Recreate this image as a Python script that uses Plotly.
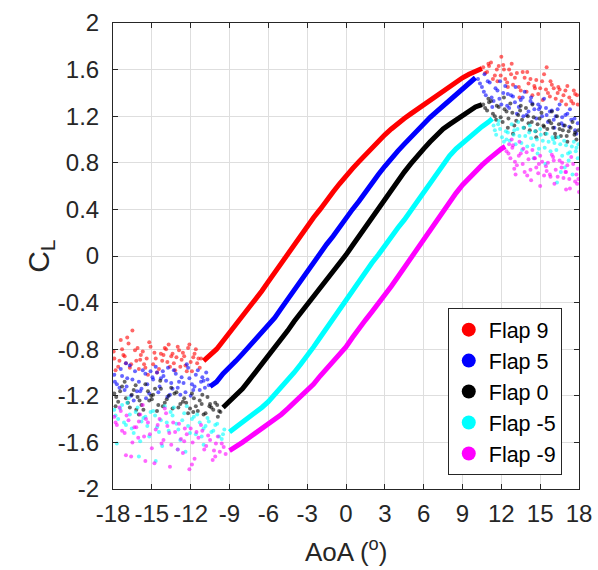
import plotly.graph_objects as go

# ---------------- data ----------------
flap_names = ["Flap 9", "Flap 5", "Flap 0", "Flap -5", "Flap -9"]
flap_colors = ["#ff0000", "#0000ff", "#000000", "#00ffff", "#ff00ff"]

# attached (linear) part of each curve
f9_x = [-11, -10.5, -10, -9.5, -9, -8.5, -8, -7.5, -7, -6.5, -6, -5.5, -5, -4.5, -4, -3.5, -3, -2.5, -2, -1.5,
        -1, -0.5, 0, 0.5, 1, 1.5, 2, 2.5, 3, 3.5, 4, 4.5, 5, 5.5, 6, 6.5, 7, 7.5, 8, 8.5, 9, 9.5, 10, 10.5]
f9_y = [-0.90, -0.85, -0.80, -0.73, -0.66, -0.59, -0.52, -0.45, -0.37, -0.30, -0.22, -0.14, -0.06, 0.02, 0.10,
        0.17, 0.26, 0.33, 0.40, 0.48, 0.55, 0.62, 0.69, 0.75, 0.81, 0.87, 0.93, 0.99, 1.04, 1.09, 1.14, 1.18,
        1.22, 1.26, 1.30, 1.34, 1.38, 1.42, 1.46, 1.49, 1.53, 1.56, 1.59, 1.61]

f5_x = [-10.5, -10, -9.5, -9, -8.5, -8, -7.5, -7, -6.5, -6, -5.5, -5, -4.5, -4, -3.5, -3, -2.5, -2, -1.5, -1,
        -0.5, 0, 0.5, 1, 1.5, 2, 2.5, 3, 3.5, 4, 4.5, 5, 5.5, 6, 6.5, 7, 7.5, 8, 8.5, 9, 9.5, 10]
f5_y = [-1.12, -1.08, -1.01, -0.96, -0.90, -0.84, -0.78, -0.72, -0.66, -0.60, -0.53, -0.45, -0.37, -0.29, -0.21,
        -0.13, -0.06, 0.02, 0.10, 0.17, 0.25, 0.32, 0.40, 0.47, 0.55, 0.63, 0.70, 0.77, 0.84, 0.90, 0.96, 1.02,
        1.08, 1.14, 1.19, 1.24, 1.29, 1.34, 1.38, 1.43, 1.48, 1.53]

f0_x = [-9.5, -9, -8.5, -8, -7.5, -7, -6.5, -6, -5.5, -5, -4.5, -4, -3.5, -3, -2.5, -2, -1.5, -1, -0.5, 0,
        0.5, 1, 1.5, 2, 2.5, 3, 3.5, 4, 4.5, 5, 5.5, 6, 6.5, 7, 7.5, 8, 8.5, 9, 9.5, 10, 10.5]
f0_y = [-1.30, -1.25, -1.20, -1.14, -1.07, -1.00, -0.93, -0.86, -0.79, -0.72, -0.64, -0.56, -0.49, -0.42, -0.35,
        -0.28, -0.20, -0.13, -0.06, 0.01, 0.09, 0.17, 0.25, 0.33, 0.41, 0.49, 0.57, 0.65, 0.72, 0.79, 0.86,
        0.92, 0.98, 1.04, 1.09, 1.13, 1.17, 1.21, 1.25, 1.28, 1.30]

fm5_x = [-9, -8.5, -8, -7.5, -7, -6.5, -6, -5.5, -5, -4.5, -4, -3.5, -3, -2.5, -2, -1.5, -1, -0.5, 0, 0.5,
         1, 1.5, 2, 2.5, 3, 3.5, 4, 4.5, 5, 5.5, 6, 6.5, 7, 7.5, 8, 8.5, 9, 9.5, 10, 10.5, 11, 11.3]
fm5_y = [-1.51, -1.47, -1.43, -1.39, -1.34, -1.30, -1.25, -1.19, -1.13, -1.07, -1.00, -0.93, -0.86, -0.78, -0.70,
         -0.62, -0.54, -0.45, -0.37, -0.30, -0.22, -0.14, -0.06, 0.01, 0.09, 0.16, 0.24, 0.31, 0.39, 0.47, 0.55,
         0.63, 0.71, 0.79, 0.86, 0.92, 0.97, 1.02, 1.07, 1.11, 1.15, 1.18]

fm9_x = [-9, -8.5, -8, -7.5, -7, -6.5, -6, -5.5, -5, -4.5, -4, -3.5, -3, -2.5, -2, -1.5, -1, -0.5, 0, 0.5,
         1, 1.5, 2, 2.5, 3, 3.5, 4, 4.5, 5, 5.5, 6, 6.5, 7, 7.5, 8, 8.5, 9, 9.5, 10, 10.5, 11, 11.5, 12, 12.3]
fm9_y = [-1.67, -1.64, -1.60, -1.56, -1.52, -1.49, -1.45, -1.41, -1.36, -1.31, -1.26, -1.21, -1.16, -1.10, -1.03,
         -0.97, -0.91, -0.85, -0.78, -0.70, -0.62, -0.55, -0.48, -0.41, -0.34, -0.26, -0.18, -0.10, -0.02, 0.06,
         0.14, 0.23, 0.31, 0.39, 0.47, 0.54, 0.61, 0.67, 0.73, 0.78, 0.83, 0.88, 0.92, 0.94]

# scattered (stalled) points, negative AoA side
f9_neg_x = [-17.9, -17.6, -17.3, -17.0, -16.8, -16.5, -16.2, -16.0, -15.7, -15.4, -15.1, -14.9, -14.6, -14.3,
            -14.0, -13.8, -13.5, -13.2, -12.9, -12.7, -12.4, -12.1, -11.8, -11.5, -11.3, -17.8, -17.2, -16.6,
            -16.1, -15.5, -14.8, -14.2, -13.6, -13.0, -12.5, -11.9, -11.4, -17.4, -15.9, -13.4,
            -17.95, -17.5, -17.1, -16.7, -16.3, -15.85, -15.6, -15.2, -14.7, -14.45, -14.1, -13.9, -13.3,
            -13.1, -12.8, -12.6, -12.2, -12.0, -11.7, -11.6, -11.2, -16.9, -15.3, -13.7, -12.3]
f9_neg_y = [-0.88, -0.95, -0.80, -0.92, -0.75, -0.64, -0.90, -0.97, -0.82, -0.88, -0.78, -0.93, -1.00, -0.84,
            -0.79, -0.91, -0.86, -0.98, -0.81, -0.89, -0.94, -0.76, -0.87, -0.92, -0.96, -0.98, -0.85, -0.93,
            -0.79, -0.96, -0.83, -0.90, -0.95, -0.78, -0.86, -0.99, -0.88, -0.72, -0.89, -0.84,
            -0.82, -0.90, -0.86, -0.96, -0.81, -0.85, -0.93, -0.74, -0.88, -0.97, -0.85, -0.80, -0.92,
            -0.87, -0.95, -0.83, -0.79, -0.91, -0.84, -0.80, -0.88, -0.70, -1.02, -0.76, -0.99]

f5_neg_x = [-17.9, -17.7, -17.4, -17.1, -16.9, -16.6, -16.3, -16.0, -15.8, -15.5, -15.2, -14.9, -14.7, -14.4,
            -14.1, -13.8, -13.5, -13.3, -13.0, -12.7, -12.4, -12.2, -11.9, -11.6, -11.3, -11.0, -10.8, -17.5,
            -16.7, -15.9, -15.1, -14.3, -13.6, -12.9, -12.3, -11.7, -11.1, -10.6, -16.4, -14.6,
            -17.85, -17.3, -16.95, -16.5, -16.15, -15.7, -15.35, -14.95, -14.5, -14.15, -13.9, -13.4, -13.15,
            -12.8, -12.55, -12.1, -11.8, -11.45, -11.2, -10.9, -10.7, -17.0, -15.45, -13.75, -12.0]
f5_neg_y = [-1.02, -1.10, -0.97, -1.15, -1.05, -1.20, -0.99, -1.08, -1.14, -1.01, -1.18, -1.06, -0.95, -1.12,
            -1.03, -1.21, -1.09, -0.98, -1.13, -1.04, -1.17, -0.96, -1.10, -1.02, -1.15, -1.07, -1.00, -1.13,
            -0.94, -1.16, -0.99, -1.05, -1.19, -1.08, -0.93, -1.12, -1.04, -1.11, -1.24, -1.00,
            -1.08, -1.03, -1.12, -1.06, -1.16, -0.98, -1.10, -1.04, -1.17, -0.99, -1.07, -1.14, -1.01,
            -1.19, -1.09, -1.05, -1.15, -0.98, -1.08, -1.13, -1.06, -0.92, -1.22, -0.96, -1.20]

f0_neg_x = [-17.9, -17.6, -17.3, -17.0, -16.7, -16.4, -16.1, -15.8, -15.5, -15.2, -14.9, -14.6, -14.3, -14.0,
            -13.7, -13.4, -13.1, -12.8, -12.5, -12.2, -11.9, -11.6, -11.3, -11.0, -10.7, -10.4, -10.1, -9.8,
            -17.8, -17.1, -16.2, -15.3, -14.5, -13.5, -12.6, -11.8, -11.1, -10.5, -9.9, -15.0,
            -17.75, -17.45, -16.85, -16.55, -16.25, -15.95, -15.65, -15.05, -14.75, -14.15, -13.85, -13.25,
            -12.95, -12.35, -12.05, -11.75, -11.45, -11.15, -10.85, -10.55, -10.25, -9.95, -9.7, -14.35, -16.0]
f0_neg_y = [-1.18, -1.25, -1.12, -1.22, -1.30, -1.15, -1.21, -1.28, -1.10, -1.24, -1.19, -1.33, -1.14, -1.26,
            -1.20, -1.31, -1.17, -1.27, -1.22, -1.35, -1.18, -1.29, -1.24, -1.36, -1.21, -1.30, -1.26, -1.33,
            -1.29, -1.08, -1.32, -1.16, -1.28, -1.13, -1.25, -1.34, -1.19, -1.27, -1.38, -1.23,
            -1.21, -1.16, -1.26, -1.19, -1.11, -1.24, -1.32, -1.20, -1.14, -1.29, -1.23, -1.18,
            -1.30, -1.26, -1.31, -1.22, -1.33, -1.27, -1.35, -1.29, -1.32, -1.28, -1.34, -1.07, -1.36]

fm5_neg_x = [-17.9, -17.6, -17.3, -17.0, -16.7, -16.4, -16.1, -15.8, -15.5, -15.2, -14.9, -14.6, -14.3, -14.0,
             -13.7, -13.4, -13.1, -12.8, -12.5, -12.2, -11.9, -11.6, -11.3, -11.0, -10.7, -10.4, -10.1, -9.8,
             -9.4, -17.7, -16.9, -16.0, -15.1, -14.2, -13.3, -12.4, -11.5, -10.6, -9.6, -14.7,
             -17.8, -17.45, -17.15, -16.55, -16.25, -15.65, -15.35, -14.75, -14.45, -13.85, -13.55, -12.95,
             -12.65, -12.05, -11.75, -11.15, -10.85, -10.25, -9.95, -9.5, -15.9, -13.0, -11.0, -16.8, -12.3]
fm5_neg_y = [-1.32, -1.40, -1.28, -1.45, -1.36, -1.52, -1.30, -1.42, -1.38, -1.55, -1.33, -1.47, -1.41, -1.29,
             -1.50, -1.37, -1.44, -1.58, -1.35, -1.46, -1.40, -1.53, -1.43, -1.48, -1.39, -1.51, -1.45, -1.55,
             -1.49, -1.61, -1.26, -1.72, -1.34, -1.63, -1.30, -1.68, -1.36, -1.42, -1.57, -1.76,
             -1.37, -1.31, -1.43, -1.48, -1.34, -1.39, -1.46, -1.37, -1.51, -1.43, -1.34, -1.49,
             -1.41, -1.52, -1.38, -1.55, -1.46, -1.50, -1.44, -1.53, -1.59, -1.66, -1.62, -1.22, -1.29]

fm9_neg_x = [-17.9, -17.7, -17.4, -17.1, -16.8, -16.5, -16.2, -15.9, -15.6, -15.3, -15.0, -14.7, -14.4, -14.1,
             -13.8, -13.5, -13.2, -12.9, -12.6, -12.3, -12.0, -11.7, -11.4, -11.1, -10.8, -10.5, -10.2, -9.9,
             -9.6, -9.3, -17.5, -16.6, -15.7, -14.8, -13.9, -13.0, -12.1, -11.2, -10.3, -16.0, -14.0, -12.5,
             -17.8, -17.3, -16.95, -16.35, -16.05, -15.45, -15.15, -14.55, -14.25, -13.65, -13.35, -12.75,
             -12.45, -11.85, -11.55, -10.95, -10.65, -10.05, -9.75, -9.45, -17.0, -15.5, -13.6, -11.9, -10.1]
fm9_neg_y = [-1.38, -1.45, -1.33, -1.52, -1.41, -1.60, -1.47, -1.36, -1.55, -1.43, -1.65, -1.49, -1.40, -1.58,
             -1.46, -1.62, -1.51, -1.44, -1.69, -1.53, -1.48, -1.74, -1.56, -1.50, -1.63, -1.58, -1.67, -1.55,
             -1.61, -1.70, -1.30, -1.72, -1.28, -1.78, -1.35, -1.66, -1.83, -1.45, -1.75, -1.42, -1.31, -1.59,
             -1.43, -1.50, -1.37, -1.47, -1.56, -1.40, -1.53, -1.45, -1.61, -1.52, -1.43, -1.57,
             -1.48, -1.60, -1.51, -1.66, -1.54, -1.61, -1.68, -1.64, -1.71, -1.76, -1.81, -1.79, -1.72]

# scattered (stalled) points, positive AoA side
f9_pos_x = [10.6, 10.9, 11.2, 11.5, 11.8, 12.0, 12.3, 12.6, 12.9, 13.2, 13.5, 13.8, 14.1, 14.4, 14.7, 15.0,
            15.3, 15.6, 15.9, 16.2, 16.5, 16.8, 17.1, 17.4, 17.7, 17.9, 11.0, 11.7, 12.2, 12.8, 13.4, 14.0,
            14.6, 15.2, 15.8, 16.4, 17.0, 17.6, 12.5, 15.5,
            10.75, 11.05, 11.35, 11.65, 11.95, 12.15, 12.45, 12.75, 13.05, 13.35, 13.65, 13.95, 14.25,
            14.55, 14.85, 15.15, 15.45, 15.75, 16.05, 16.35, 16.65, 16.95, 17.25, 17.55, 17.85]
f9_pos_y = [1.62, 1.58, 1.66, 1.55, 1.63, 1.71, 1.52, 1.60, 1.47, 1.57, 1.42, 1.53, 1.48, 1.38, 1.51, 1.44,
            1.56, 1.40, 1.47, 1.35, 1.43, 1.38, 1.46, 1.33, 1.39, 1.30, 1.65, 1.50, 1.60, 1.65, 1.36, 1.58,
            1.44, 1.34, 1.50, 1.45, 1.30, 1.42, 1.45, 1.62,
            1.57, 1.63, 1.52, 1.60, 1.55, 1.64, 1.49, 1.56, 1.53, 1.45, 1.58, 1.41, 1.52,
            1.46, 1.39, 1.50, 1.43, 1.37, 1.44, 1.40, 1.33, 1.42, 1.36, 1.31, 1.38]

f5_pos_x = [10.2, 10.5, 10.8, 11.1, 11.4, 11.7, 12.0, 12.3, 12.6, 12.9, 13.2, 13.5, 13.8, 14.1, 14.4, 14.7,
            15.0, 15.3, 15.6, 15.9, 16.2, 16.5, 16.8, 17.1, 17.4, 17.7, 17.9, 10.7, 11.3, 11.9, 12.5, 13.1,
            13.7, 14.3, 14.9, 15.5, 16.1, 16.7, 17.3, 17.8,
            10.35, 10.65, 10.95, 11.25, 11.55, 11.85, 12.15, 12.45, 12.75, 13.05, 13.35, 13.65, 13.95,
            14.25, 14.55, 14.85, 15.15, 15.45, 15.75, 16.05, 16.35, 16.65, 16.95, 17.25, 17.65]
f5_pos_y = [1.52, 1.45, 1.38, 1.49, 1.33, 1.42, 1.30, 1.46, 1.27, 1.37, 1.22, 1.34, 1.41, 1.24, 1.31, 1.18,
            1.28, 1.35, 1.15, 1.25, 1.20, 1.30, 1.12, 1.22, 1.17, 1.08, 1.14, 1.56, 1.28, 1.50, 1.39, 1.45,
            1.20, 1.36, 1.26, 1.21, 1.10, 1.19, 1.26, 1.05,
            1.48, 1.41, 1.50, 1.36, 1.44, 1.35, 1.40, 1.29, 1.38, 1.32, 1.28, 1.36, 1.21,
            1.33, 1.26, 1.30, 1.20, 1.27, 1.24, 1.17, 1.26, 1.14, 1.21, 1.11, 1.18]

f0_pos_x = [10.6, 10.9, 11.2, 11.5, 11.8, 12.1, 12.4, 12.7, 13.0, 13.3, 13.6, 13.9, 14.2, 14.5, 14.8, 15.1,
            15.4, 15.7, 16.0, 16.3, 16.6, 16.9, 17.2, 17.5, 17.8, 11.0, 11.6, 12.2, 12.9, 13.5, 14.1, 14.7,
            15.3, 15.9, 16.5, 17.1, 17.7, 12.5, 14.4, 16.2,
            10.75, 11.05, 11.35, 11.65, 11.95, 12.25, 12.55, 12.85, 13.15, 13.45, 13.75, 14.05, 14.35,
            14.65, 14.95, 15.25, 15.55, 15.85, 16.15, 16.45, 16.75, 17.05, 17.35, 17.65, 17.95]
f0_pos_y = [1.30, 1.25, 1.33, 1.20, 1.28, 1.15, 1.24, 1.31, 1.12, 1.21, 1.17, 1.27, 1.08, 1.19, 1.13, 1.23,
            1.05, 1.16, 1.10, 1.20, 1.03, 1.12, 1.07, 1.15, 1.00, 1.35, 1.17, 1.36, 1.05, 1.29, 1.14, 1.02,
            1.11, 1.24, 1.09, 0.98, 1.06, 1.10, 1.30, 1.02,
            1.27, 1.32, 1.22, 1.29, 1.19, 1.26, 1.18, 1.23, 1.16, 1.25, 1.10, 1.20, 1.15,
            1.07, 1.18, 1.12, 1.09, 1.14, 1.05, 1.13, 1.08, 1.03, 1.10, 1.04, 1.08]

fm5_pos_x = [11.4, 11.6, 11.9, 12.2, 12.5, 12.8, 13.1, 13.4, 13.7, 14.0, 14.3, 14.6, 14.9, 15.2, 15.5, 15.8,
             16.1, 16.4, 16.7, 17.0, 17.3, 17.6, 17.9, 11.8, 12.4, 13.0, 13.6, 14.2, 14.8, 15.4, 16.0, 16.6,
             17.2, 17.8, 16.3, 17.5, 13.3, 15.0,
             11.5, 11.75, 12.05, 12.35, 12.65, 12.95, 13.25, 13.55, 13.85, 14.15, 14.45, 14.75, 15.05,
             15.35, 15.65, 15.95, 16.25, 16.55, 16.85, 17.15, 17.45, 17.75, 17.95, 14.5, 16.9]
fm5_pos_y = [1.12, 1.04, 1.09, 0.98, 1.06, 1.13, 0.96, 1.03, 1.10, 0.94, 1.01, 1.07, 0.92, 0.99, 1.05, 0.90,
             0.97, 1.02, 0.86, 0.95, 0.89, 0.98, 0.84, 1.16, 1.00, 1.08, 0.91, 1.12, 0.88, 0.79, 1.00, 0.72,
             0.82, 0.93, 0.63, 0.70, 1.15, 1.09,
             1.08, 1.13, 1.02, 1.07, 0.99, 1.04, 1.09, 0.97, 1.03, 1.06, 0.95, 1.00, 1.04,
             0.93, 0.98, 1.02, 0.91, 0.96, 0.99, 0.88, 0.94, 0.90, 0.96, 0.84, 0.76]

fm9_pos_x = [12.4, 12.7, 12.9, 13.2, 13.5, 13.8, 14.1, 14.4, 14.7, 15.0, 15.3, 15.6, 15.9, 16.2, 16.5, 16.8,
             17.1, 17.4, 17.7, 17.9, 12.6, 13.1, 13.7, 14.3, 14.9, 15.5, 16.1, 16.7, 17.3, 17.8, 13.4, 14.6,
             15.8, 17.0, 18.0, 12.8,
             12.55, 12.85, 13.05, 13.35, 13.65, 13.95, 14.25, 14.55, 14.85, 15.15, 15.45, 15.75, 16.05,
             16.35, 16.65, 16.95, 17.25, 17.55, 17.85, 13.0, 14.0, 15.0, 16.0, 17.0, 17.95]
fm9_pos_y = [0.90, 0.84, 0.95, 0.78, 0.88, 0.72, 0.83, 0.91, 0.76, 0.86, 0.69, 0.80, 0.87, 0.74, 0.82, 0.67,
             0.78, 0.85, 0.64, 0.75, 0.96, 0.70, 0.92, 0.65, 0.79, 0.73, 0.62, 0.80, 0.58, 0.70, 0.98, 0.84,
             0.68, 0.72, 0.55, 1.00,
             0.88, 0.93, 0.81, 0.86, 0.79, 0.89, 0.74, 0.84, 0.71, 0.81, 0.77, 0.70, 0.82,
             0.68, 0.76, 0.72, 0.66, 0.79, 0.62, 0.75, 0.69, 0.60, 0.85, 0.57, 0.66]

x_ticks = [-18, -15, -12, -9, -6, -3, 0, 3, 6, 9, 12, 15, 18]
x_ticklabels = ["-18", "-15", "-12", "-9", "-6", "-3", "0", "3", "6", "9", "12", "15", "18"]
y_ticks = [-2, -1.6, -1.2, -0.8, -0.4, 0, 0.4, 0.8, 1.2, 1.6, 2]
y_ticklabels = ["-2", "-1.6", "-1.2", "-0.8", "-0.4", "0", "0.4", "0.8", "1.2", "1.6", "2"]

series = [
    (f9_x, f9_y, f9_neg_x, f9_neg_y, f9_pos_x, f9_pos_y),
    (f5_x, f5_y, f5_neg_x, f5_neg_y, f5_pos_x, f5_pos_y),
    (f0_x, f0_y, f0_neg_x, f0_neg_y, f0_pos_x, f0_pos_y),
    (fm5_x, fm5_y, fm5_neg_x, fm5_neg_y, fm5_pos_x, fm5_pos_y),
    (fm9_x, fm9_y, fm9_neg_x, fm9_neg_y, fm9_pos_x, fm9_pos_y),
]

# ---------------- figure ----------------
FONT = "Liberation Sans, Arial, Helvetica, sans-serif"
fig = go.Figure()

for name, color, (lx, ly, nx, ny, px, py) in zip(flap_names, flap_colors, series):
    fig.add_trace(go.Scatter(x=nx + px, y=ny + py, mode="markers", showlegend=False,
                             marker=dict(color=color, size=4, opacity=0.6, line=dict(width=0)),
                             hoverinfo="skip"))
    fig.add_trace(go.Scatter(x=lx, y=ly, mode="lines", showlegend=False,
                             line=dict(color=color, width=5), hoverinfo="skip"))

for name, color in zip(flap_names, flap_colors):
    fig.add_trace(go.Scatter(x=[None], y=[None], mode="markers", name=name,
                             marker=dict(color=color, size=14)))

axis_common = dict(showgrid=True, gridcolor="#dedede", gridwidth=1, zeroline=False,
                   showline=True, linecolor="#262626", linewidth=1, mirror="ticks",
                   ticks="inside", ticklen=5, tickcolor="#262626", automargin=False,
                   tickfont=dict(family=FONT, size=24, color="#262626"))

fig.update_xaxes(range=[-18, 18], tickvals=x_ticks, ticktext=x_ticklabels,
                 ticklabelstandoff=3, **axis_common)
fig.update_yaxes(range=[-2, 2], tickvals=y_ticks, ticktext=y_ticklabels,
                 ticklabelstandoff=8, **axis_common)

fig.update_layout(
    width=598, height=570,
    margin=dict(l=113, r=19, t=23, b=81),
    paper_bgcolor="white", plot_bgcolor="white",
    font=dict(family=FONT, color="#262626"),
    legend=dict(x=0.963, y=0.388, xanchor="right", yanchor="top",
                bgcolor="white", bordercolor="#262626", borderwidth=1,
                font=dict(family=FONT, size=21.5, color="#000000"),
                itemsizing="trace"),
    annotations=[
        dict(text="AoA (<sup>o</sup>)", xref="paper", yref="paper", x=0.5, y=-0.133,
             xanchor="center", yanchor="middle", showarrow=False,
             font=dict(family=FONT, size=26, color="#262626")),
        dict(text="C<sub>L</sub>", xref="paper", yref="paper", x=-0.157, y=0.5,
             xanchor="center", yanchor="middle", showarrow=False, textangle=-90,
             font=dict(family=FONT, size=30, color="#262626")),
    ],
)

fig.write_html("out.html", config={"displayModeBar": False},
               post_script="document.body.style.margin='0px';")
